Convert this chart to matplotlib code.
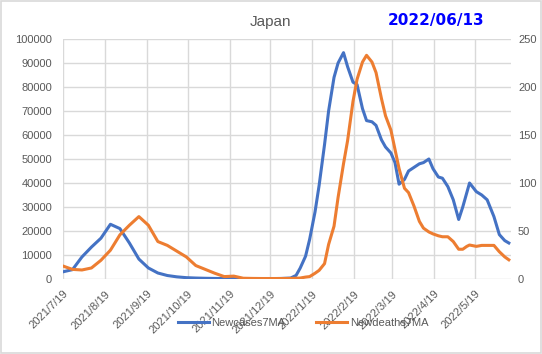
import pandas as pd
import matplotlib
matplotlib.use('Agg')
import matplotlib.pyplot as plt
from matplotlib.patches import Rectangle

# days after 2021/7/19
days = [0, 7, 14, 21, 28, 35, 42, 49, 56, 63, 70, 77, 84, 91, 98, 105, 112, 119,
        126, 133, 140, 147, 154, 161, 168,
        172, 175, 179, 182, 186, 189, 193, 196, 200, 203, 207, 210, 214, 217, 221,
        224, 228, 231, 235, 238, 242, 245, 248, 252, 255, 259, 263, 266, 270, 273,
        277, 280, 284, 288, 292, 295, 298, 300, 305, 309, 313, 318, 322, 326, 329]

new_cases_7ma = [3000, 3900, 9200, 13300, 17000, 22800, 21000, 15000, 8300, 4600,
                 2500, 1450, 900, 560, 400, 300, 230, 180, 160, 150, 140, 150, 170, 230, 400,
                 1500, 4500, 9500, 16500, 28000, 39000, 56000, 70000, 84000, 90000,
                 94300, 88500, 82000, 81000, 71000, 66000, 65500, 64000, 58000, 55000,
                 52500, 48500, 39500, 41500, 45000, 46500, 48000, 48500, 50000, 46000,
                 42500, 42000, 38500, 33000, 24800, 30000, 36000, 40000, 36400, 35000,
                 33000, 26000, 18500, 16000, 15000]

new_deaths_7ma = [13.5, 10, 9.4, 11.5, 19.5, 30, 46, 56, 65, 56, 39, 35, 29, 23, 14,
                  10, 6, 2.5, 3, 0.8, 0.6, 0.5, 0.5, 0.5, 0.6,
                  0.8, 1, 2, 2.5, 6, 9, 16, 36, 55, 85, 120, 144, 185, 208, 226,
                  233, 226, 215, 188, 170, 155, 135, 115, 94.5, 90, 76, 60, 53, 49, 47,
                  45, 44, 44, 39, 31, 31, 34, 35.4, 34, 35, 35, 35, 28.4, 23, 20]

start = pd.Timestamp('2021-07-19')
dates = start + pd.to_timedelta(days, unit='D')
tick_dates = pd.date_range('2021-07-19', periods=11, freq=pd.DateOffset(months=1))
tick_labels = [f"{d.year}/{d.month}/{d.day}" for d in tick_dates]

blue = '#4472C4'
orange = '#ED7D31'
gray = '#595959'
grid = '#D9D9D9'
plt.rcParams['font.family'] = ['Liberation Sans', 'DejaVu Sans']

fig = plt.figure(figsize=(5.42, 3.54), dpi=100)
fig.patches.append(Rectangle((0.002, 0.003), 0.996, 0.994, transform=fig.transFigure,
                             fill=False, edgecolor=grid, lw=1.2))

ax = fig.add_axes([63/542, 75/354, 448/542, 240/354])
ax2 = ax.twinx()

ax.plot(dates, new_cases_7ma, color=blue, lw=2.2, label='Newcases7MA', zorder=3)
ax2.plot(dates, new_deaths_7ma, color=orange, lw=2.2, label='Newdeaths7MA', zorder=3)

ax.set_ylim(0, 100000)
ax.set_yticks(range(0, 100001, 10000))
ax2.set_ylim(0, 250)
ax2.set_yticks(range(0, 251, 50))
ax.set_xlim(start, start + pd.Timedelta(days=330.6))
ax.set_xticks(tick_dates)
ax.set_xticklabels(tick_labels, rotation=45, ha='right', rotation_mode='anchor')

ax.grid(True, color=grid, lw=1)
ax.set_axisbelow(True)
for a in (ax, ax2):
    for s in a.spines.values():
        s.set_visible(False)
    a.tick_params(length=0, colors=gray, labelsize=8)
ax.tick_params(axis='y', pad=8)
ax.tick_params(axis='x', pad=7)
ax2.tick_params(axis='y', pad=5)

fig.text(0.4995, 1 - 22/354, 'Japan', ha='center', va='center', color=gray, fontsize=11)
fig.text(436/542, 1 - 20/354, '2022/06/13', ha='center', va='center', color='#0000FF',
         fontsize=11, fontweight='bold', family='DejaVu Sans')

h1, l1 = ax.get_legend_handles_labels()
h2, l2 = ax2.get_legend_handles_labels()
leg = fig.legend(h1 + h2, l1 + l2, loc='center', bbox_to_anchor=(303/542, 1 - 322.7/354),
                 ncol=2, frameon=False, fontsize=8, handlelength=2.8, columnspacing=2.8,
                 handletextpad=0.2)
for t in leg.get_texts():
    t.set_color(gray)

fig.savefig('out.png', dpi=100)
